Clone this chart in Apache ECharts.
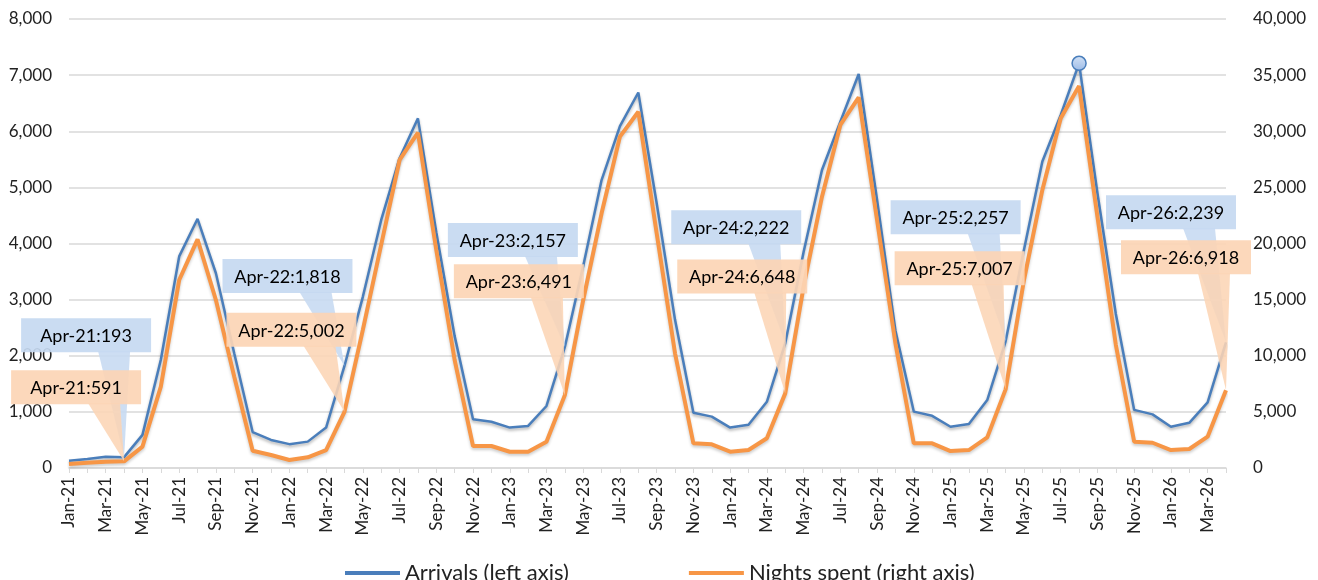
<!DOCTYPE html>
<html>
<head>
<meta charset="utf-8">
<script src="https://cdn.jsdelivr.net/npm/echarts@6/dist/echarts.min.js"></script>
<style>
  html, body { margin: 0; padding: 0; background: #fff; }
  #chart { width: 1318px; height: 580px; }
</style>
</head>
<body>
<div id="chart"></div>
<script>
var months = ['Jan', 'Feb', 'Mar', 'Apr', 'May', 'Jun', 'Jul', 'Aug', 'Sep', 'Oct', 'Nov', 'Dec'];
var years = ['21', '22', '23', '24', '25', '26'];

// Jan-21 .. Apr-26
var categories = [];
years.forEach(function (y) {
  months.forEach(function (m) { categories.push(m + '-' + y); });
});
categories = categories.slice(0, 64);

var arrivals = [
  130, 160, 200, 193, 590, 1930, 3770, 4440, 3470, 2040, 640, 500,
  425, 470, 720, 1818, 3050, 4420, 5520, 6230, 4200, 2350, 870, 825,
  720, 750, 1105, 2157, 3600, 5130, 6090, 6690, 4720, 2640, 985, 915,
  720, 770, 1180, 2222, 3850, 5310, 6170, 7020, 4780, 2450, 1005, 930,
  735, 785, 1210, 2257, 3890, 5460, 6290, 7210, 4900, 2750, 1035, 955,
  735, 805, 1170, 2239
];

var nights = [
  360, 470, 560, 591, 1900, 7250, 16750, 20370, 14970, 8130, 1540, 1160,
  710, 950, 1600, 5002, 12300, 19900, 27440, 29870, 19420, 9620, 1960, 1960,
  1450, 1450, 2340, 6491, 14970, 22690, 29520, 31740, 20910, 10220, 2200, 2110,
  1450, 1600, 2650, 6648, 16150, 24170, 30560, 33020, 22090, 11110, 2200, 2200,
  1510, 1600, 2730, 7007, 16750, 24770, 31150, 34030, 22390, 11000, 2340, 2250,
  1600, 1690, 2790, 6918
];

var leftTicks = [0, 8000, 1000];
var rightTicks = [0, 40000, 5000];

// callout box centre offsets from the point (one per April label)
var blueOffsets = [[-38, -122], [-57, -90], [-52, -107], [-49, -116], [-50, -124], [-55, -130]];
var orangeOffsets = [[-48, -74], [-53, -82], [-46, -114], [-43, -117], [-46, -121], [-40, -133]];

var fmt = function (v) { return Number(v).toLocaleString('en-US'); };
var FONT = 'Lato, "Open Sans", sans-serif';

var aprIdx = [];
categories.forEach(function (c, i) { if (c.indexOf('Apr') === 0) aprIdx.push(i); });

var peakIdx = arrivals.indexOf(Math.max.apply(null, arrivals));
var arrivalsData = arrivals.map(function (v, i) {
  if (i !== peakIdx) return v;
  return {
    value: v, symbol: 'circle', symbolSize: 14,
    itemStyle: {
      color: new echarts.graphic.LinearGradient(0, 0, 0, 1, [
        { offset: 0, color: '#d3e2f6' }, { offset: 1, color: '#9dbbe6' }
      ]),
      borderColor: '#4a7ebb', borderWidth: 1.5
    }
  };
});

function calloutSeries(values, yAxisIndex, fill, offsets, z) {
  return {
    type: 'custom',
    yAxisIndex: yAxisIndex,
    z: z,
    silent: true,
    clip: false,
    data: aprIdx.map(function (i, k) { return [i, values[i], k]; }),
    encode: { x: 0, y: 1 },
    renderItem: function (params, api) {
      var idx = api.value(0), val = api.value(1), k = api.value(2);
      var p = api.coord([idx, val]);
      var w = 130, h = 34;
      var cx = p[0] + offsets[k][0], cy = p[1] + offsets[k][1];
      var x0 = cx - w / 2, y0 = cy - h / 2;
      return {
        type: 'group',
        children: [
          { type: 'polygon', shape: { points: [[cx + 12, y0 + h - 1], [cx + 44, y0 + h - 1], p] },
            style: { fill: fill, opacity: 0.88 } },
          { type: 'rect', shape: { x: x0, y: y0, width: w, height: h },
            style: { fill: fill, opacity: 0.92 } },
          { type: 'text', style: { text: categories[idx] + ':' + fmt(val), x: cx, y: cy + 1,
            align: 'center', verticalAlign: 'middle', fill: '#000', font: '18px ' + FONT } }
        ]
      };
    }
  };
}

var chart = echarts.init(document.getElementById('chart'));

var option = {
  animation: false,
  textStyle: { fontFamily: FONT },
  grid: { left: 69, right: 92, top: 19, bottom: 112 },
  legend: {
    left: 340, top: 557,
    itemWidth: 55, itemHeight: 4, itemGap: 120,
    icon: 'rect',
    textStyle: { fontSize: 22, color: '#222', fontFamily: FONT },
    data: ['Arrivals (left axis)', 'Nights spent (right axis)']
  },
  xAxis: {
    type: 'category',
    boundaryGap: false,
    data: categories,
    axisLine: { lineStyle: { color: '#d9d9d9', width: 1.5 } },
    axisTick: { show: true, interval: 0, length: 5, lineStyle: { color: '#d9d9d9' } },
    axisLabel: { interval: 1, rotate: 90, fontSize: 17, color: '#222', margin: 9 },
    splitLine: { show: false }
  },
  yAxis: [
    {
      type: 'value', min: leftTicks[0], max: leftTicks[1], interval: leftTicks[2],
      axisLine: { show: false }, axisTick: { show: false },
      axisLabel: { formatter: fmt, fontSize: 17, color: '#222', margin: 17 },
      splitLine: { lineStyle: { color: '#d9d9d9', width: 1.5 } }
    },
    {
      type: 'value', min: rightTicks[0], max: rightTicks[1], interval: rightTicks[2],
      axisLine: { show: false }, axisTick: { show: false },
      axisLabel: { formatter: fmt, fontSize: 17, color: '#222', margin: 27 },
      splitLine: { show: false }
    }
  ],
  series: [
    {
      name: 'Arrivals (left axis)',
      type: 'line',
      yAxisIndex: 0,
      data: arrivalsData,
      symbol: 'none',
      showSymbol: true,
      color: '#4a7ebb',
      z: 2,
      lineStyle: { width: 2.5, color: '#4a7ebb', shadowColor: 'rgba(0,0,0,0.3)', shadowBlur: 3, shadowOffsetY: 2 }
    },
    {
      name: 'Nights spent (right axis)',
      type: 'line',
      yAxisIndex: 1,
      data: nights,
      symbol: 'none',
      color: '#f79646',
      z: 2,
      lineStyle: { width: 4, color: '#f79646', shadowColor: 'rgba(0,0,0,0.2)', shadowBlur: 3, shadowOffsetY: 2 }
    },
    calloutSeries(arrivals, 0, '#c6d9f1', blueOffsets, 5),
    calloutSeries(nights, 1, '#fcd5b5', orangeOffsets, 6)
  ]
};

chart.setOption(option);
window.addEventListener('resize', chart.resize);
</script>
</body>
</html>
